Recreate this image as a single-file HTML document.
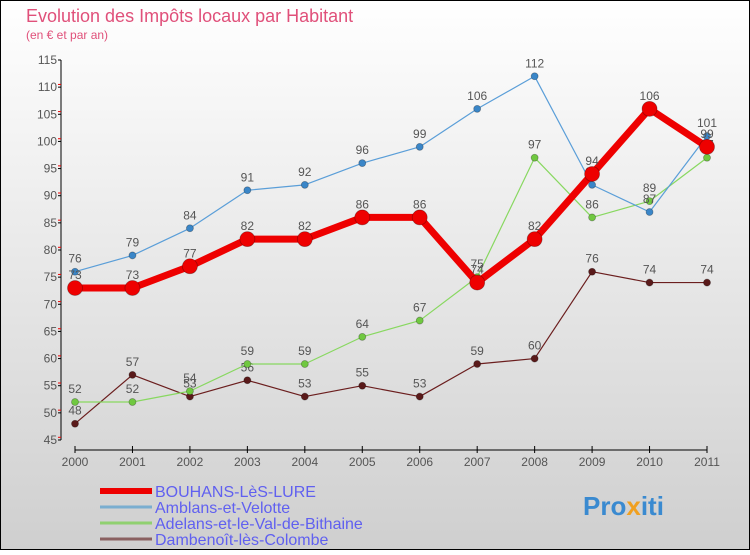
<!DOCTYPE html>
<html><head><meta charset="utf-8"><style>
body{margin:0}
svg text{font-family:"Liberation Sans",sans-serif}
</style></head><body>
<svg width="750" height="550" xmlns="http://www.w3.org/2000/svg">
<defs><linearGradient id="bg" x1="0" y1="0" x2="0" y2="1"><stop offset="0" stop-color="#ffffff"/><stop offset="1" stop-color="#cfcfcf"/></linearGradient></defs>
<rect x="0.5" y="0.5" width="749" height="549" fill="url(#bg)" stroke="#000"/>
<text x="26" y="22" font-size="18" fill="#e0507a">Evolution des Impôts locaux par Habitant</text>
<text x="26" y="39" font-size="12" fill="#e0507a">(en € et par an)</text>
<g id="axes"></g><g id="series"></g><g id="legend"></g>
<text x="583" y="515" font-size="26" font-weight="bold" fill="#3a8ad0">Pro<tspan fill="#f0a020">x</tspan>iti</text>
</svg>
<script>
const years=["2000","2001","2002","2003","2004","2005","2006","2007","2008","2009","2010","2011"];
const yTicks=[45,50,55,60,65,70,75,80,85,90,95,100,105,110,115];
const bouhans=[73,73,77,82,82,86,86,74,82,94,106,99];
const amblans=[76,79,84,91,92,96,99,106,112,92,87,101];
const adelans=[52,52,54,59,59,64,67,75,97,86,89,97];
const dambenoit=[48,57,53,56,53,55,53,59,60,76,74,74];
const names=["BOUHANS-LèS-LURE","Amblans-et-Velotte","Adelans-et-le-Val-de-Bithaine","Dambenoît-lès-Colombe"];
const NS="http://www.w3.org/2000/svg";
const xs=i=>75+i*(707-75)/11;
const ys=v=>440-(v-45)*(380/70);
function mk(t,a,p){const e=document.createElementNS(NS,t);for(const k in a)e.setAttribute(k,a[k]);p.appendChild(e);return e;}
const ax=document.getElementById('axes');
let e=mk('line',{x1:61,y1:60,x2:61,y2:440,stroke:'#000'},ax);


yTicks.forEach(v=>{const y=ys(v);
 mk('line',{x1:58,y1:y,x2:61,y2:y,stroke:'#000'},ax);
 if(v<115)mk('line',{x1:58,y1:y-2.7,x2:61,y2:y-2.7,stroke:'#e00'},ax);
 const t=mk('text',{x:57,y:y+4,'font-size':12,'text-anchor':'end',fill:'#555'},ax);t.textContent=v;
 
 });
e=mk('line',{x1:75,y1:450,x2:707,y2:450,stroke:'#000'},ax);


years.forEach((yr,i)=>{const x=xs(i);
 mk('line',{x1:x,y1:446,x2:x,y2:453,stroke:'#000'},ax);
 const t=mk('text',{x:x,y:466,'font-size':12,'text-anchor':'middle',fill:'#555'},ax);t.textContent=yr;
 
 });
const sg=document.getElementById('series');
const defs=[[dambenoit,'#6b1e1e','#5a1a1a',1.2,3.5,'dambenoit'],[adelans,'#88d860','#70c840',1.2,3.5,'adelans'],[amblans,'#5a9ed8','#3a86c8',1.2,3.5,'amblans'],[bouhans,'#ee0000','#ee0000',7,7.5,'bouhans']];
defs.forEach(([d,c,pc,w,r,n])=>{
 const g=mk('g',{},sg);
 
 
 mk('polyline',{points:d.map((v,i)=>xs(i)+','+ys(v)).join(' '),fill:'none',stroke:c,'stroke-width':w,'stroke-linejoin':'round'},g);
 d.forEach((v,i)=>{const p=mk('circle',{cx:xs(i),cy:ys(v),r:r,fill:pc,stroke:'rgba(0,0,0,0.3)','stroke-width':0.8},g);
  
  
  const t=mk('text',{x:xs(i),y:ys(v)-9,'font-size':12,'text-anchor':'middle',fill:'#555'},g);t.textContent=v;
  
  });
});
const lg=document.getElementById('legend');
const lc=[['#ee0000',6],['#7aaed0',3],['#90d070',3],['#8a6060',3]];
names.forEach((nm,i)=>{const y=491+i*16;
 const g=mk('g',{},lg);
 
 
 mk('line',{x1:100,y1:y,x2:152,y2:y,stroke:lc[i][0],'stroke-width':lc[i][1]},g);
 const t=mk('text',{x:155,y:y+6,'font-size':16,fill:'#6060f0'},g);t.textContent=nm;});
</script>
</body></html>
